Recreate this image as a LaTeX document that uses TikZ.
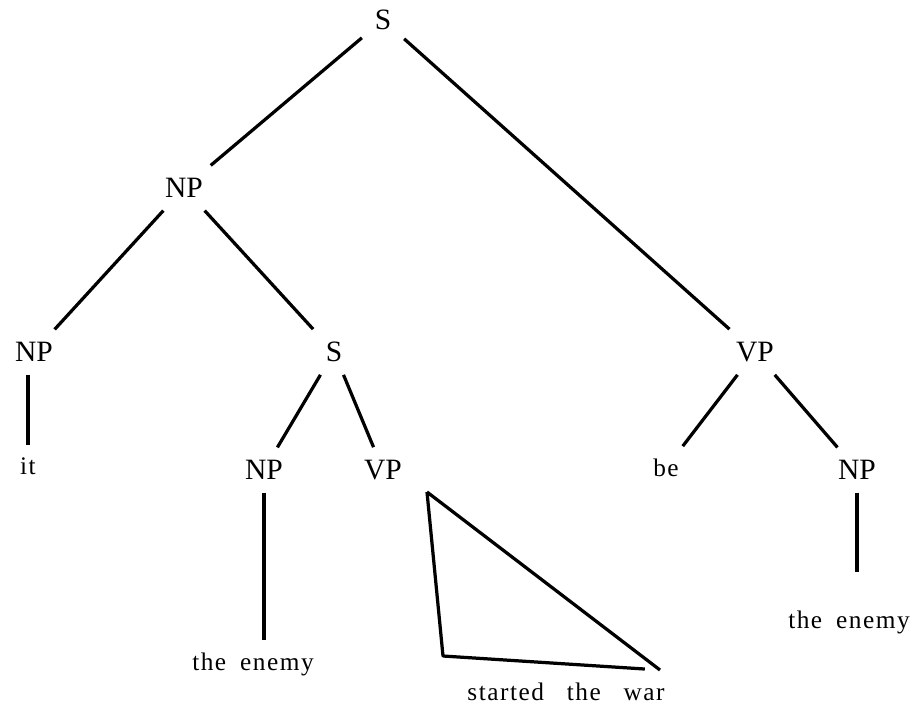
\documentclass[tikz,border=0pt]{standalone}
\usepackage{fontspec}
\setmainfont{Liberation Serif}
\newfontfamily\wordfont[LetterSpace=6]{Liberation Serif}
\newcommand\wordstyle{\wordfont\fontsize{18}{21}\selectfont\spaceskip 0.55em plus 0.1em\relax}
\newcommand\widestyle{\wordfont\fontsize{18}{21}\selectfont\spaceskip 0.9em plus 0.1em\relax}
\usetikzlibrary{positioning,calc}

\begin{document}
\begin{tikzpicture}[x=0.025cm,y=-0.025cm,
  cat/.style={font=\fontsize{21}{24}\selectfont,inner sep=9pt},
  word/.style={font=\wordstyle,inner sep=9pt},
  branch/.style={line width=2.3pt}]
\useasboundingbox (0,0) rectangle (910,710);

% categories
\node[cat] (s)     at (383,20)  {S};
\node[cat] (np)    at (184,188) {NP};
\node[cat] (npit)  at (34,352)  {NP};
\node[cat] (srel)  at (334,352) {S};
\node[cat] (vp)    at (755,352) {VP};
\node[cat] (npsub) at (264,470) {NP};
\node[cat] (vprel) at (383,470) {VP};
\node[cat] (npobj) at (857,470) {NP};

% words
\node[word] (it)     at (28,466)  {it};
\node[word] (be)     at (666,468) {be};
\node[word] (enemy1) at (253,664) {the enemy};
\node[word] (enemy2) at (849,622) {the enemy};
\node[word,font=\widestyle] (war) at (566,692) {started the war};

% branches
\draw[branch] (s) -- (np);
\draw[branch] (s) -- (vp);
\draw[branch] (np) -- (npit);
\draw[branch] (np) -- (srel);
\draw[branch] (it |- npit.south) -- (it);
\draw[branch] (srel) -- (npsub);
\draw[branch] (srel) -- (vprel);
\draw[branch] (vp) -- (be);
\draw[branch] (vp) -- (npobj);
\draw[branch] (npsub) -- (npsub |- enemy1.north);
\draw[branch,shorten >=18pt] (npobj) -- (npobj |- enemy2.north);

% triangle under the relative VP
\coordinate (ttop) at (427,492);
\coordinate (tleft) at (443,656);
\coordinate (tright) at (660,670);
\draw[branch,line join=round] (ttop) -- (tleft) -- ($(tleft)!0.93!(tright)$);
\draw[branch] (ttop) -- (tright);
\end{tikzpicture}
\end{document}
